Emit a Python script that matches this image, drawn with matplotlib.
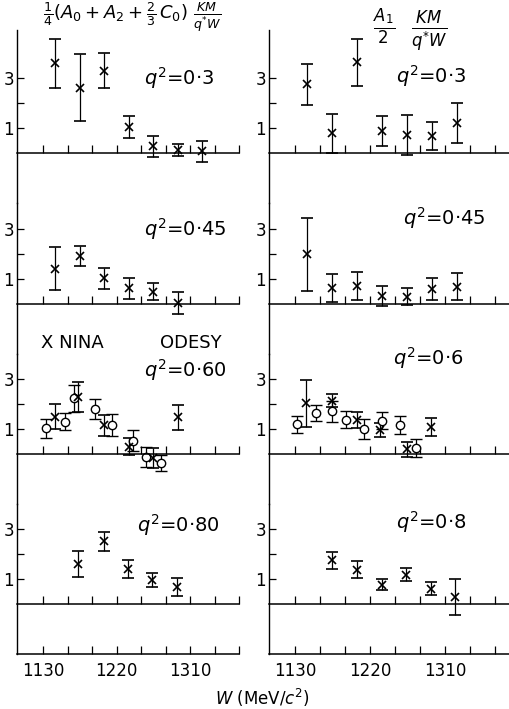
import matplotlib.pyplot as plt
import numpy as np

# W bins (MeV/c^2) and values
w7 = [1145, 1175, 1205, 1235, 1265, 1295, 1325]
w6 = [1145, 1175, 1205, 1235, 1265, 1295]

a_03 = [3.58, 2.61, 3.29, 1.05, 0.27, 0.11, 0.07]
a_03_err = [0.98, 1.34, 0.69, 0.43, 0.41, 0.24, 0.43]
b_03 = [2.76, 0.79, 3.62, 0.88, 0.72, 0.68, 1.21]
b_03_err = [0.82, 0.77, 0.94, 0.60, 0.79, 0.57, 0.80]

a_045 = [1.42, 1.91, 1.03, 0.63, 0.50, 0.04]
a_045_err = [0.87, 0.40, 0.42, 0.41, 0.33, 0.45]
b_045 = [1.99, 0.63, 0.71, 0.34, 0.30, 0.61, 0.70]
b_045_err = [1.46, 0.56, 0.56, 0.40, 0.34, 0.44, 0.53]

a_06_nina_w = [1145, 1173, 1204, 1235, 1265, 1295]
a_06_nina = [1.49, 2.29, 1.16, 0.29, -0.15, 1.47]
a_06_nina_err = [0.50, 0.59, 0.42, 0.34, 0.39, 0.49]
a_06_odesy_w = [1133, 1157, 1168, 1193, 1215, 1240, 1256, 1275]
a_06_odesy = [1.03, 1.29, 2.23, 1.79, 1.16, 0.53, -0.11, -0.35]
a_06_odesy_err = [0.39, 0.34, 0.55, 0.40, 0.44, 0.42, 0.39, 0.33]

b_06_nina_w = [1143, 1174, 1204, 1232, 1264, 1293]
b_06_nina = [2.04, 2.14, 1.38, 0.96, 0.20, 1.09]
b_06_nina_err = [0.94, 0.26, 0.32, 0.28, 0.30, 0.36]
b_06_odesy_w = [1132, 1155, 1175, 1191, 1213, 1234, 1256, 1275]
b_06_odesy = [1.20, 1.64, 1.71, 1.38, 1.00, 1.33, 1.16, 0.24]
b_06_odesy_err = [0.34, 0.32, 0.41, 0.34, 0.39, 0.34, 0.36, 0.35]

a_08_w = [1173, 1204, 1234, 1263, 1294]
a_08 = [1.61, 2.51, 1.40, 0.97, 0.68]
a_08_err = [0.52, 0.37, 0.35, 0.27, 0.36]
b_08_w = [1175, 1204, 1234, 1263, 1293, 1322]
b_08 = [1.75, 1.38, 0.78, 1.18, 0.62, 0.29]
b_08_err = [0.34, 0.33, 0.22, 0.25, 0.25, 0.71]

q2_left = ['0·3', '0·45', '0·60', '0·80']
q2_right = ['0·3', '0·45', '0·6', '0·8']
w_ticks = [1130, 1160, 1190, 1220, 1250, 1280, 1310, 1340, 1370]
w_labels = ['1130', '', '', '1220', '', '', '1310', '', '']

W, H = 510, 709
fig = plt.figure(figsize=(W / 100, H / 100), dpi=100)

# row extents in pixels from top
rows_px = [(30, 203), (203, 354), (354, 504), (504, 654)]
cols_px = [(17, 239, (1098, 1364)), (269, 510, (1099, 1388))]


def make_ax(r, c):
    top, bot = rows_px[r]
    x0, x1, xl = cols_px[c]
    ax = fig.add_axes([x0 / W, 1 - bot / H, (x1 - x0) / W, (bot - top) / H])
    ax.set_xlim(*xl)
    ax.set_ylim(-2, -2 + (bot - top) / 25.0)
    ax.patch.set_alpha(0)
    for s in ['top', 'right']:
        ax.spines[s].set_visible(False)
    ax.spines['bottom'].set_position(('data', 0))
    ax.spines['left'].set_linewidth(1.0)
    ax.spines['bottom'].set_linewidth(1.1)
    ax.set_xticks(w_ticks)
    ax.tick_params(axis='x', direction='in', length=6, width=0.9, labelbottom=False)
    ax.set_yticks([1, 2, 3], labels=['1', '', '3'])
    ax.tick_params(axis='y', direction='in', length=5, width=0.9, labelsize=12, pad=2)
    if r == 3:
        sec = ax.secondary_xaxis(0.0)
        sec.set_xticks(w_ticks, labels=w_labels)
        sec.tick_params(direction='in', length=6, width=0.9, labelsize=12, pad=6)
        sec.spines['bottom'].set_linewidth(1.1)
    return ax


def cross(ax, x, y, e):
    ax.errorbar(x, y, yerr=e, fmt='x', color='k', ms=6, mew=1.2, elinewidth=0.9,
                capsize=4, capthick=0.9)


def circ(ax, x, y, e):
    ax.errorbar(x, y, yerr=e, fmt='o', color='k', mfc='white', ms=6, mew=1.0,
                elinewidth=0.9, capsize=4, capthick=0.9)


axs = [[make_ax(r, c) for c in range(2)] for r in range(4)]

cross(axs[0][0], w7, a_03, a_03_err)
cross(axs[0][1], w7, b_03, b_03_err)
cross(axs[1][0], w6, a_045, a_045_err)
cross(axs[1][1], w7, b_045, b_045_err)
circ(axs[2][0], a_06_odesy_w, a_06_odesy, a_06_odesy_err)
cross(axs[2][0], a_06_nina_w, a_06_nina, a_06_nina_err)
circ(axs[2][1], b_06_odesy_w, b_06_odesy, b_06_odesy_err)
cross(axs[2][1], b_06_nina_w, b_06_nina, b_06_nina_err)
cross(axs[3][0], a_08_w, a_08, a_08_err)
cross(axs[3][1], b_08_w, b_08, b_08_err)

# q^2 labels
q_pos_left = [(1254, 3.0), (1254, 3.0), (1254, 3.36), (1245, 3.16)]
q_pos_right = [(1251, 3.06), (1260, 3.44), (1248, 3.84), (1251, 3.28)]
for r in range(4):
    axs[r][0].text(*q_pos_left[r], '$q^2$=' + q2_left[r], fontsize=14, va='center')
    axs[r][1].text(*q_pos_right[r], '$q^2$=' + q2_right[r], fontsize=14, va='center')

axs[2][0].text(1128, 4.44, 'X NINA', fontsize=13, va='center')
axs[2][0].text(1273, 4.44, 'ODESY', fontsize=13, va='center')

fig.text(132 / W, 1 - 17 / H, r'$\frac{1}{4}(A_0+A_2+\frac{2}{3}\,C_0)\ \frac{KM}{q^{*}W}$',
         fontsize=13, ha='center', va='center')
fig.text(410 / W, 1 - 30 / H, r'$\frac{A_1}{2}\ \ \frac{KM}{q^{*}W}$',
         fontsize=17, ha='center', va='center')
fig.text(262 / W, 1 - 698 / H, r'$W$ (MeV/$c^2$)', fontsize=12, ha='center', va='center')

fig.savefig('out.png', dpi=100)
